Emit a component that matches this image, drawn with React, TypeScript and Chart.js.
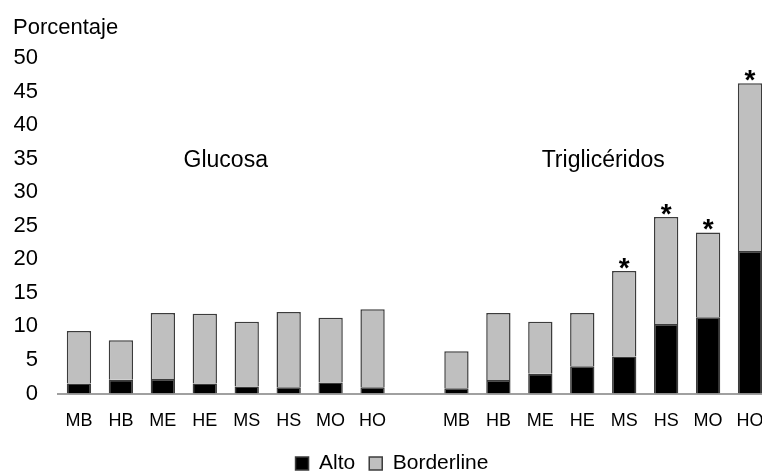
import React, { useEffect, useRef } from "react";
import { Chart, registerables } from "chart.js";

Chart.register(...registerables);

// ---- Data ----
const categories = [
  "MB", "HB", "ME", "HE", "MS", "HS", "MO", "HO",
  "",
  "MB", "HB", "ME", "HE", "MS", "HS", "MO", "HO",
];

const altoValues = [
  1.5, 2.05, 2.15, 1.5, 1.05, 0.95, 1.65, 0.95,
  null,
  0.8, 2.0, 2.95, 4.05, 5.5, 10.35, 11.35, 21.25,
];

const borderlineValues = [
  7.8, 5.9, 9.85, 10.4, 9.65, 11.2, 9.65, 11.6,
  null,
  5.5, 10.0, 7.75, 7.95, 12.75, 15.95, 12.65, 25.0,
];

const significance = [
  "", "", "", "", "", "", "", "",
  "",
  "", "", "", "", "*", "*", "*", "*",
];

const groupLabels = ["Glucosa", "Triglicéridos"];
const groupRanges = [
  [0, 7],
  [9, 16],
];
const groupLabelLevel = 34.7;

const seriesNames = ["Alto", "Borderline"];
const yAxisTitle = "Porcentaje";
const yMin = 0;
const yMax = 50;
const yStep = 5;

const FONT = "'Liberation Sans', Arial, Helvetica, sans-serif";

const annotationsPlugin = {
  id: "groupAnnotations",
  afterDatasetsDraw(chart: any) {
    const { ctx } = chart;
    const x = chart.scales.x;
    const y = chart.scales.y;
    ctx.save();
    ctx.fillStyle = "#000000";
    ctx.textAlign = "center";
    ctx.textBaseline = "middle";
    ctx.font = `23px ${FONT}`;
    groupLabels.forEach((label, g) => {
      const [a, b] = groupRanges[g];
      const cx = (x.getPixelForValue(a) + x.getPixelForValue(b)) / 2;
      ctx.fillText(label, cx, y.getPixelForValue(groupLabelLevel));
    });
    ctx.font = `bold 28px ${FONT}`;
    ctx.textBaseline = "alphabetic";
    significance.forEach((mark, i) => {
      if (!mark) return;
      const total = (altoValues[i] ?? 0) + (borderlineValues[i] ?? 0);
      ctx.fillText(mark, x.getPixelForValue(i), y.getPixelForValue(total) + 6);
    });
    ctx.restore();
  },
};

export default function App() {
  const canvasRef = useRef<HTMLCanvasElement | null>(null);

  useEffect(() => {
    if (!canvasRef.current) return;
    Chart.defaults.font.family = FONT;
    const chart = new Chart(canvasRef.current, {
      type: "bar",
      data: {
        labels: categories,
        datasets: [
          {
            label: seriesNames[0],
            data: altoValues,
            backgroundColor: "#000000",
            borderColor: "#3c3c3c",
            borderWidth: 1.5,
          },
          {
            label: seriesNames[1],
            data: borderlineValues,
            backgroundColor: "#BFBFBF",
            borderColor: "#3c3c3c",
            borderWidth: 1.5,
          },
        ],
      },
      options: {
        responsive: false,
        animation: false,
        devicePixelRatio: 1,
        layout: { padding: { left: 13, right: 19, top: 0, bottom: 0 } },
        datasets: {
          bar: { categoryPercentage: 1, barPercentage: 0.58 },
        },
        scales: {
          x: {
            stacked: true,
            grid: { display: false, drawTicks: false },
            border: { display: true, color: "#A0A0A0", width: 2 },
            ticks: {
              autoSkip: false,
              maxRotation: 0,
              padding: 17,
              color: "#000000",
              font: { size: 18 },
            },
            afterFit(scale: any) {
              scale.height = 45.5;
            },
          },
          y: {
            stacked: true,
            min: yMin,
            max: yMax,
            grid: { display: false, drawTicks: false },
            border: { display: false },
            ticks: {
              stepSize: yStep,
              padding: 20,
              color: "#000000",
              font: { size: 22 },
            },
            afterFit(scale: any) {
              scale.width = 45;
            },
          },
        },
        plugins: {
          title: {
            display: true,
            text: yAxisTitle,
            align: "start",
            color: "#000000",
            font: { size: 22, weight: "normal" },
            padding: { top: 14.5, bottom: 17.1 },
          },
          legend: {
            position: "bottom",
            labels: {
              boxWidth: 13,
              boxHeight: 13,
              padding: 14,
              color: "#000000",
              font: { size: 21 },
            },
          },
          tooltip: { enabled: false },
        },
      },
      plugins: [annotationsPlugin],
    });
    return () => chart.destroy();
  }, []);

  return (
    <div
      style={{
        position: "fixed",
        left: 0,
        top: 0,
        width: 762,
        height: 472,
        overflow: "hidden",
        background: "#ffffff",
      }}
    >
      <canvas ref={canvasRef} width={790} height={484} style={{ display: "block" }} />
    </div>
  );
}
